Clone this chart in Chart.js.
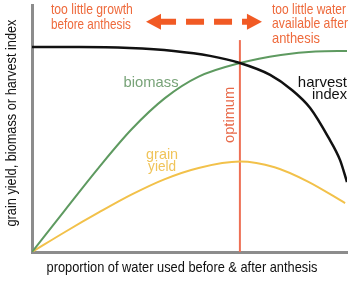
<!DOCTYPE html>
<html lang="en">
<head>
<meta charset="UTF-8">
<title>Water use and grain yield</title>
<script src="https://cdn.jsdelivr.net/npm/chart.js"></script>
<style>
  html, body { margin: 0; padding: 0; background: #fff; }
  #wrap { width: 350px; height: 281px; }
</style>
</head>
<body>
<div id="wrap"><canvas id="chart" width="350" height="281"></canvas></div>
<script>
// x: proportion of water used before anthesis (0-100), y: relative value (0-100)
const harvestX = [0, 15, 31, 45, 56.5, 66, 75.6, 82.5, 88.3, 94, 97.8, 100];
const harvestY = [83, 83, 82.6, 81.4, 79.4, 76.5, 71.7, 65.6, 58.3, 46.6, 37.2, 28.3];

const biomassX = [0, 10.6, 21.2, 31.7, 42.2, 52.9, 66, 79, 90, 100];
const biomassY = [0, 17.2, 34.2, 49.8, 62.3, 71, 76.5, 79.8, 81.2, 81.4];

const grainX = [0, 10.6, 21.2, 31.7, 42.2, 52.9, 66, 77, 87.6, 99.4];
const grainY = [0, 8.2, 16, 23.3, 29.5, 34, 36.6, 34.3, 28.5, 19.8];

const optimumX = [66, 66];
const optimumY = [0, 85.8];

const toPoints = (xs, ys) => xs.map((x, i) => ({ x: x, y: ys[i] }));

// text labels placed in data coordinates
const notes = [
  { text: 'too little growth', x: 6, y: 98, color: '#ee6a3c', size: 15, align: 'left', width: 82 },
  { text: 'before anthesis', x: 6, y: 92, color: '#ee6a3c', size: 15, align: 'left', width: 80 },
  { text: 'too little water', x: 76.2, y: 98, color: '#ee6a3c', size: 15, align: 'left', width: 74 },
  { text: 'available after', x: 76.2, y: 92.3, color: '#ee6a3c', size: 15, align: 'left', width: 76 },
  { text: 'anthesis', x: 76.2, y: 86.2, color: '#ee6a3c', size: 15, align: 'left', width: 48 },
  { text: 'biomass', x: 37.8, y: 68.4, color: '#78a378', size: 15, align: 'center', width: 55 },
  { text: 'harvest', x: 100, y: 68.4, color: '#111', size: 15, align: 'right', width: 50 },
  { text: 'index', x: 100, y: 63.5, color: '#111', size: 15, align: 'right', width: 35 },
  { text: 'grain', x: 41.3, y: 39.3, color: '#f0c45a', size: 15, align: 'center', width: 32 },
  { text: 'yield', x: 41.3, y: 34.4, color: '#f0c45a', size: 15, align: 'center', width: 28 }
];

const labelPlugin = {
  id: 'labels',
  afterDatasetsDraw(chart) {
    const ctx = chart.ctx;
    const xs = chart.scales.x, ys = chart.scales.y;
    ctx.save();
    ctx.textBaseline = 'middle';
    notes.forEach(n => {
      ctx.font = n.size + 'px "Liberation Sans", Arial, sans-serif';
      ctx.fillStyle = n.color;
      ctx.textAlign = n.align;
      ctx.fillText(n.text, xs.getPixelForValue(n.x), ys.getPixelForValue(n.y), n.width);
    });

    // rotated "optimum"
    ctx.save();
    ctx.translate(xs.getPixelForValue(62.8), ys.getPixelForValue(55.5));
    ctx.rotate(-Math.PI / 2);
    ctx.textAlign = 'center';
    ctx.fillStyle = '#e86a4a';
    ctx.font = '15px "Liberation Sans", Arial, sans-serif';
    ctx.fillText('optimum', 0, 0, 56);
    ctx.restore();

    // dashed double arrow
    const ay = ys.getPixelForValue(93.2);
    const l = xs.getPixelForValue(36.2), r = xs.getPixelForValue(73);
    ctx.fillStyle = '#f15a24';
    ctx.strokeStyle = '#f15a24';
    ctx.lineWidth = 6;
    ctx.beginPath();
    ctx.moveTo(l, ay); ctx.lineTo(l + 15, ay - 8); ctx.lineTo(l + 15, ay + 8); ctx.closePath();
    ctx.fill();
    ctx.beginPath();
    ctx.moveTo(r, ay); ctx.lineTo(r - 15, ay - 8); ctx.lineTo(r - 15, ay + 8); ctx.closePath();
    ctx.fill();
    ctx.setLineDash([18, 10]);
    ctx.beginPath();
    ctx.moveTo(l + 12, ay); ctx.lineTo(r - 12, ay);
    ctx.stroke();
    ctx.setLineDash([]);

    // axis titles
    ctx.fillStyle = '#111';
    ctx.font = '15px "Liberation Sans", Arial, sans-serif';
    ctx.textAlign = 'center';
    ctx.fillText('proportion of water used before & after anthesis', 182, 268, 271);
    ctx.save();
    ctx.translate(12, 123);
    ctx.rotate(-Math.PI / 2);
    ctx.fillText('grain yield, biomass or harvest index', 0, 0, 207);
    ctx.restore();
    ctx.restore();
  }
};

new Chart(document.getElementById('chart'), {
  type: 'line',
  data: {
    datasets: [
      { label: 'harvest index', data: toPoints(harvestX, harvestY), borderColor: '#111', borderWidth: 2.5 },
      { label: 'biomass', data: toPoints(biomassX, biomassY), borderColor: '#5e9a60', borderWidth: 2 },
      { label: 'grain yield', data: toPoints(grainX, grainY), borderColor: '#f2c14a', borderWidth: 2 },
      { label: 'optimum', data: toPoints(optimumX, optimumY), borderColor: '#ee7055', borderWidth: 2, tension: 0 }
    ]
  },
  options: {
    responsive: false,
    animation: false,
    layout: { padding: { left: 32, right: 3, top: 5, bottom: 29 } },
    elements: {
      point: { radius: 0 },
      line: { cubicInterpolationMode: 'monotone', fill: false }
    },
    plugins: { legend: { display: false }, tooltip: { enabled: false } },
    scales: {
      x: {
        type: 'linear', min: 0, max: 100,
        grid: { display: false, drawTicks: false },
        ticks: { display: false },
        border: { display: true, color: '#8c8c8c', width: 3 }
      },
      y: {
        min: 0, max: 100,
        grid: { display: false, drawTicks: false },
        ticks: { display: false },
        border: { display: true, color: '#8c8c8c', width: 3 }
      }
    }
  },
  plugins: [labelPlugin]
});
</script>
</body>
</html>
